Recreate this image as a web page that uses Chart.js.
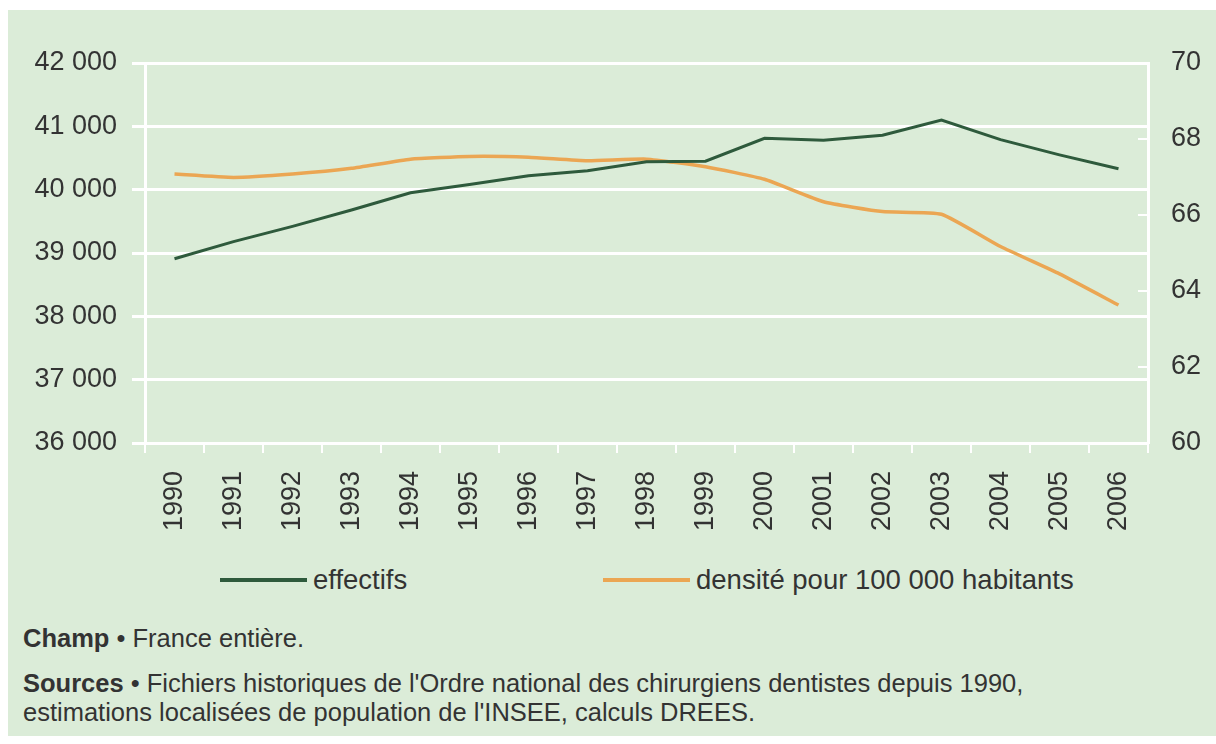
<!DOCTYPE html>
<html>
<head>
<meta charset="utf-8">
<script src="https://cdn.jsdelivr.net/npm/chart.js@4"></script>
<style>
  body { margin: 0; background: #fff; width: 1216px; height: 744px; overflow: hidden; }
  #panel { position: absolute; left: 8px; top: 10px; width: 1208px; height: 726px; background: #dbecd8;
    font-family: "Liberation Sans", Arial, sans-serif; color: #333; }
  #wrap { position: absolute; left: 0; top: 0; width: 1208px; height: 545px; }
  #legend { position: absolute; left: 0; top: 550px; width: 1208px; height: 40px; }
  .item { position: absolute; top: 0; height: 40px; display: flex; align-items: center; font-size: 27.5px; }
  .swatch { display: inline-block; width: 87px; height: 4px; margin-right: 6px; }
  .note { position: absolute; left: 15px; font-size: 25.5px; line-height: 29px; }
  .note b { font-weight: bold; }
</style>
</head>
<body>
<div id="panel">
  <div id="wrap"><canvas id="myChart"></canvas></div>
  <div id="legend"></div>
  <div class="note" style="top:614px"><b>Champ</b> • France entière.</div>
  <div class="note" style="top:659px"><b>Sources</b> • Fichiers historiques de l'Ordre national des chirurgiens dentistes depuis 1990,<br>estimations localisées de population de l'INSEE, calculs DREES.</div>
</div>
<script>
const years = ["1990","1991","1992","1993","1994","1995","1996","1997","1998","1999","2000","2001","2002","2003","2004","2005","2006"];
const effectifs = [38910, 39180, 39420, 39680, 39950, 40080, 40220, 40300, 40440, 40450, 40810, 40780, 40860, 41100, 40790, 40550, 40330];
const densite = [67.08, 66.99, 67.08, 67.23, 67.47, 67.54, 67.52, 67.43, 67.47, 67.27, 66.94, 66.35, 66.09, 66.02, 65.17, 64.45, 63.63];
const seriesNames = ["effectifs", "densité pour 100 000 habitants"];
const seriesColors = ["#2e5a3c", "#eba653"];
const legendX = [212, 595];

const tickFont = { family: "'Liberation Sans', Arial, sans-serif", size: 27 };
const textColor = "#333";

const data = {
  labels: years,
  datasets: [
    {
      label: seriesNames[0],
      data: effectifs,
      yAxisID: "y",
      borderColor: seriesColors[0],
      borderWidth: 3,
      pointRadius: 0,
      tension: 0
    },
    {
      label: seriesNames[1],
      data: densite,
      yAxisID: "y1",
      borderColor: seriesColors[1],
      borderWidth: 3.5,
      pointRadius: 0,
      tension: 0.15
    }
  ]
};

const config = {
  type: "line",
  data: data,
  options: {
    responsive: true,
    maintainAspectRatio: false,
    animation: false,
    layout: { padding: { top: 53, left: 0, right: 0, bottom: 0 } },
    plugins: { legend: { display: false }, tooltip: { enabled: false } },
    scales: {
      x: {
        offset: true,
        grid: { offset: true, drawOnChartArea: false, color: "#fff", lineWidth: 2, tickLength: 10 },
        border: { color: "#fff", width: 3 },
        ticks: { color: textColor, font: tickFont, minRotation: 90, maxRotation: 90, padding: 18 },
        afterFit: (s) => { s.height = 112; }
      },
      y: {
        position: "left",
        min: 36000,
        max: 42000,
        ticks: {
          stepSize: 1000,
          color: textColor,
          font: tickFont,
          padding: 15,
          callback: (v) => String(v).replace(/(\d+)(\d{3})$/, "$1 $2")
        },
        grid: { color: "#fff", lineWidth: 3, tickLength: 13 },
        border: { color: "#fff", width: 3 },
        afterFit: (s) => { s.width = 137; }
      },
      y1: {
        position: "right",
        min: 60,
        max: 70,
        ticks: { stepSize: 2, color: textColor, font: tickFont, padding: 33 },
        // short marks drawn on the inner side of the right axis
        grid: { drawOnChartArea: false, color: "#fff", lineWidth: 2, tickLength: -10 },
        border: { color: "#fff", width: 3 },
        afterFit: (s) => { s.width = 68; }
      }
    }
  }
};

const ctx = document.getElementById("myChart").getContext("2d");
const myChart = new Chart(ctx, config);

// legend laid out like the original, built from the datasets
const legendEl = document.getElementById("legend");
data.datasets.forEach((ds, i) => {
  const item = document.createElement("div");
  item.className = "item";
  item.style.left = legendX[i] + "px";
  const sw = document.createElement("span");
  sw.className = "swatch";
  sw.style.background = ds.borderColor;
  item.appendChild(sw);
  item.appendChild(document.createTextNode(ds.label));
  legendEl.appendChild(item);
});
</script>
</body>
</html>
